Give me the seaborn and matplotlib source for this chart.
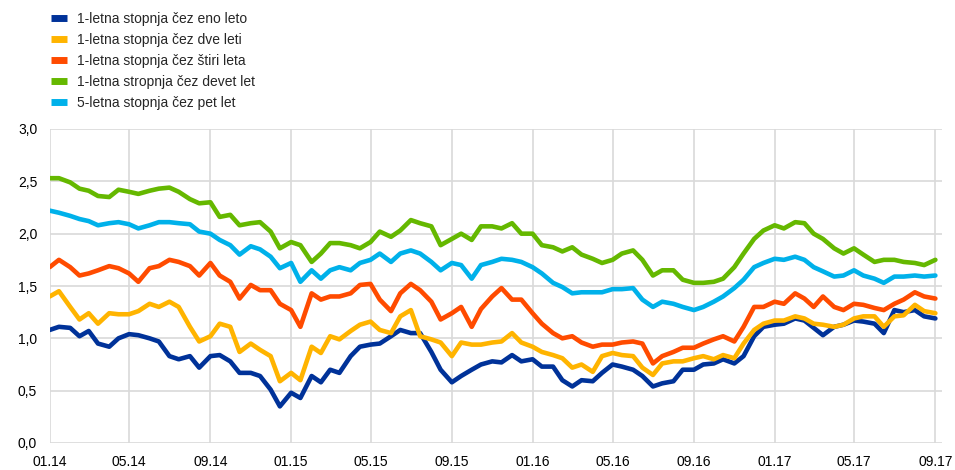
import numpy as np
import pandas as pd
import matplotlib
matplotlib.use('Agg')
import matplotlib.pyplot as plt
import matplotlib.dates as mdates
from matplotlib.ticker import FuncFormatter, MultipleLocator
import seaborn as sns

# semi-monthly observation dates (1st and 15th of each month)
dates = pd.date_range('2014-01-01', '2017-09-01', freq='SMS')

labels = [
    '1-letna stopnja čez eno leto',
    '1-letna stopnja čez dve leti',
    '1-letna stopnja čez štiri leta',
    '1-letna stropnja čez devet let',
    '5-letna stopnja čez pet let',
]
colors = ['#003299', '#FFB400', '#FF4B00', '#65B800', '#00B1EA']

blue = [1.08, 1.11, 1.10, 1.02, 1.07, 0.95, 0.92, 1.00, 1.04, 1.03, 1.00, 0.97, 0.83, 0.80, 0.83,
        0.72, 0.83, 0.84, 0.78, 0.67, 0.67, 0.64, 0.51, 0.35, 0.48, 0.43, 0.64, 0.58, 0.70,
        0.67, 0.83, 0.92, 0.94, 0.95, 1.02, 1.08, 1.05, 1.05, 0.87, 0.70, 0.58, 0.64, 0.70, 0.75,
        0.78, 0.77, 0.84, 0.78, 0.80, 0.73, 0.73, 0.60, 0.54, 0.60, 0.59, 0.67, 0.75, 0.73,
        0.70, 0.64, 0.54, 0.57, 0.59, 0.70, 0.70, 0.75, 0.76, 0.80, 0.76, 0.83, 1.02, 1.11, 1.13,
        1.14, 1.19, 1.17, 1.10, 1.03, 1.11, 1.13, 1.17, 1.16, 1.14, 1.05, 1.27, 1.25, 1.27, 1.21, 1.19]

yellow = [1.40, 1.45, 1.30, 1.18, 1.24, 1.14, 1.24, 1.23, 1.23, 1.26, 1.33, 1.30, 1.35, 1.30, 1.11,
          0.97, 1.02, 1.14, 1.11, 0.87, 0.95, 0.89, 0.83, 0.59, 0.67, 0.60, 0.92, 0.86, 1.02,
          0.99, 1.07, 1.13, 1.16, 1.08, 1.05, 1.21, 1.27, 1.02, 0.99, 0.96, 0.83, 0.96, 0.94, 0.94,
          0.96, 0.97, 1.05, 0.96, 0.92, 0.87, 0.84, 0.81, 0.72, 0.75, 0.68, 0.83, 0.86, 0.84,
          0.83, 0.72, 0.65, 0.76, 0.78, 0.78, 0.81, 0.83, 0.80, 0.84, 0.81, 0.95, 1.08, 1.14, 1.17,
          1.17, 1.21, 1.19, 1.14, 1.13, 1.11, 1.13, 1.19, 1.21, 1.21, 1.11, 1.21, 1.22, 1.32, 1.26, 1.24]

orange = [1.68, 1.75, 1.68, 1.60, 1.62, 1.65, 1.69, 1.67, 1.62, 1.54, 1.67, 1.69, 1.75, 1.73, 1.69,
          1.60, 1.72, 1.60, 1.54, 1.38, 1.51, 1.46, 1.46, 1.33, 1.27, 1.11, 1.43, 1.37, 1.40,
          1.40, 1.43, 1.51, 1.52, 1.37, 1.26, 1.43, 1.52, 1.46, 1.35, 1.18, 1.24, 1.30, 1.11, 1.28,
          1.40, 1.48, 1.37, 1.37, 1.24, 1.14, 1.05, 1.00, 1.02, 0.96, 0.92, 0.94, 0.94, 0.96,
          0.97, 0.95, 0.76, 0.83, 0.87, 0.91, 0.91, 0.95, 0.99, 1.02, 0.97, 1.11, 1.30, 1.30, 1.35,
          1.33, 1.43, 1.38, 1.30, 1.40, 1.30, 1.27, 1.33, 1.32, 1.29, 1.27, 1.33, 1.37, 1.44, 1.40, 1.38]

green = [2.53, 2.53, 2.49, 2.43, 2.41, 2.36, 2.35, 2.42, 2.40, 2.38, 2.41, 2.43, 2.44, 2.40, 2.33,
         2.29, 2.30, 2.16, 2.18, 2.08, 2.10, 2.11, 2.02, 1.86, 1.92, 1.89, 1.73, 1.81, 1.91,
         1.91, 1.89, 1.86, 1.92, 2.02, 1.97, 2.03, 2.13, 2.10, 2.07, 1.89, 1.95, 2.00, 1.94, 2.07,
         2.07, 2.05, 2.10, 2.00, 2.00, 1.89, 1.87, 1.83, 1.87, 1.80, 1.76, 1.72, 1.75, 1.81,
         1.84, 1.75, 1.60, 1.65, 1.65, 1.56, 1.53, 1.53, 1.54, 1.57, 1.68, 1.81, 1.95, 2.03, 2.08,
         2.05, 2.11, 2.10, 2.00, 1.95, 1.86, 1.81, 1.86, 1.80, 1.73, 1.75, 1.75, 1.73, 1.72, 1.70, 1.75]

cyan = [2.22, 2.20, 2.17, 2.14, 2.12, 2.08, 2.10, 2.11, 2.09, 2.05, 2.08, 2.11, 2.11, 2.10, 2.09,
        2.02, 2.00, 1.94, 1.89, 1.80, 1.88, 1.85, 1.78, 1.67, 1.72, 1.54, 1.65, 1.57, 1.65,
        1.68, 1.65, 1.72, 1.75, 1.81, 1.73, 1.81, 1.84, 1.81, 1.73, 1.65, 1.72, 1.70, 1.57, 1.70,
        1.73, 1.76, 1.75, 1.73, 1.68, 1.62, 1.53, 1.49, 1.43, 1.44, 1.44, 1.44, 1.47, 1.47,
        1.48, 1.37, 1.30, 1.35, 1.33, 1.30, 1.27, 1.30, 1.35, 1.40, 1.48, 1.56, 1.68, 1.72, 1.76,
        1.75, 1.78, 1.75, 1.68, 1.64, 1.59, 1.60, 1.65, 1.60, 1.57, 1.53, 1.59, 1.59, 1.60, 1.59, 1.60]

x_tick_dates = pd.date_range('2014-01-01', '2017-09-01', freq='4MS')
y_ticks = [0.0, 0.5, 1.0, 1.5, 2.0, 2.5, 3.0]

series_values = [blue, yellow, orange, green, cyan]
df = pd.concat([
    pd.DataFrame({'date': dates, 'value': vals, 'series': name})
    for name, vals in zip(labels, series_values)
], ignore_index=True)

sns.set_style('white')
plt.rcParams['font.family'] = ['Liberation Sans', 'DejaVu Sans']

fig = plt.figure(figsize=(9.55, 4.70), dpi=100)
ax = fig.add_axes([49.7 / 955, 1 - 443 / 470, (942 - 49.7) / 955, (443 - 129) / 470])

sns.lineplot(data=df, x='date', y='value', hue='series', hue_order=labels,
             palette=colors, linewidth=3.3, ax=ax, legend=True)

ax.set_xlim(pd.Timestamp('2014-01-01'), pd.Timestamp('2017-09-11'))
ax.set_ylim(0, 3.0)
ax.set_xticks(x_tick_dates)
ax.xaxis.set_major_formatter(mdates.DateFormatter('%m.%y'))
ax.set_yticks(y_ticks)
ax.yaxis.set_major_formatter(FuncFormatter(lambda v, p: f'{v:.1f}'.replace('.', ',')))
ax.set_xlabel('')
ax.set_ylabel('')
ax.grid(True, color='#D9D9D9', linewidth=1.2)
ax.set_axisbelow(True)
for s in ax.spines.values():
    s.set_visible(False)
ax.tick_params(axis='both', length=0, labelsize=10, colors='black')
ax.tick_params(axis='y', pad=9)
ax.tick_params(axis='x', pad=8.5)

handles, labs = ax.get_legend_handles_labels()
leg = ax.legend(handles, labs, loc='upper left', bbox_to_anchor=(51 / 955, 1 - 12 / 470),
                bbox_transform=fig.transFigure, frameon=False, fontsize=10,
                handlelength=1.15, handletextpad=0.75, labelspacing=0.5,
                borderpad=0, borderaxespad=0)
for h in leg.get_lines():
    h.set_linewidth(5)
    h.set_solid_capstyle('butt')

fig.savefig('out.png', dpi=100)
